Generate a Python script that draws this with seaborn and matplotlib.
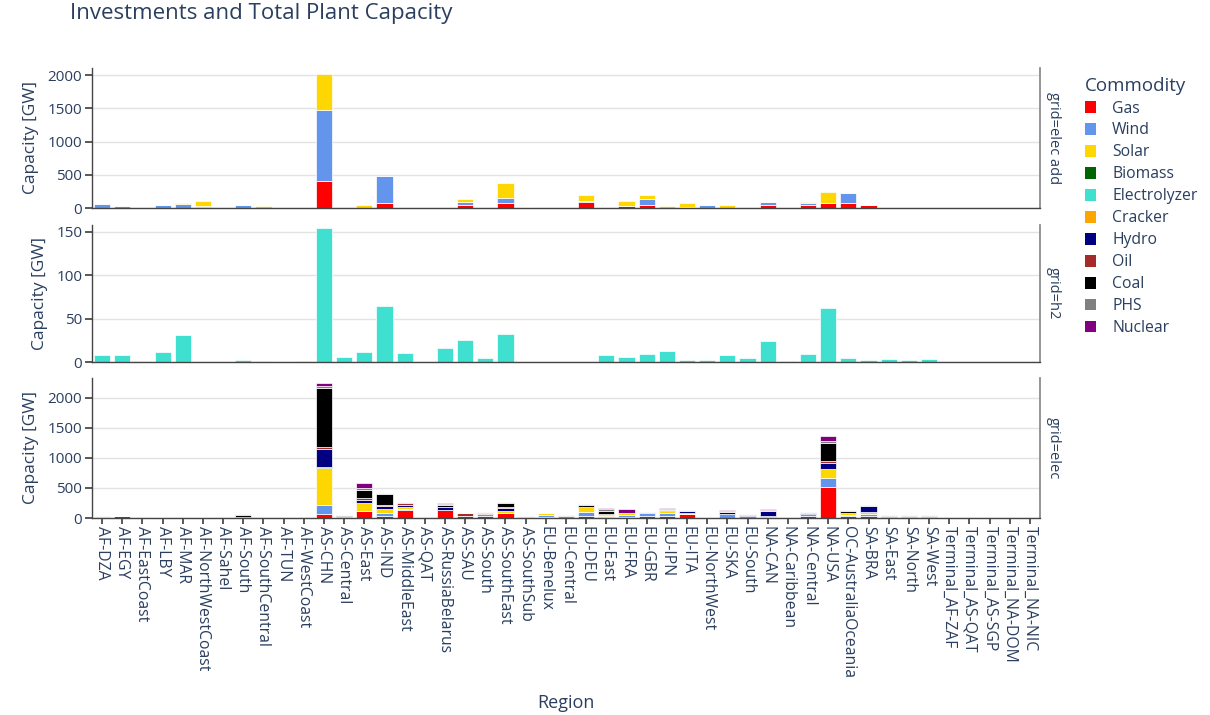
import numpy as np
import pandas as pd
import seaborn as sns
import matplotlib.pyplot as plt
from matplotlib.patches import Patch

regions = [
    "AF-DZA", "AF-EGY", "AF-EastCoast", "AF-LBY", "AF-MAR", "AF-NorthWestCoast",
    "AF-Sahel", "AF-South", "AF-SouthCentral", "AF-TUN", "AF-WestCoast",
    "AS-CHN", "AS-Central", "AS-East", "AS-IND", "AS-MiddleEast", "AS-QAT",
    "AS-RussiaBelarus", "AS-SAU", "AS-South", "AS-SouthEast", "AS-SouthSub",
    "EU-Benelux", "EU-Central", "EU-DEU", "EU-East", "EU-FRA", "EU-GBR",
    "EU-IPN", "EU-ITA", "EU-NorthWest", "EU-SKA", "EU-South",
    "NA-CAN", "NA-Caribbean", "NA-Central", "NA-USA", "OC-AustraliaOceania",
    "SA-BRA", "SA-East", "SA-North", "SA-West",
    "Terminal_AF-ZAF", "Terminal_AS-QAT", "Terminal_AS-SGP", "Terminal_NA-DOM", "Terminal_NA-NIC",
]

commodities = ["Gas", "Wind", "Solar", "Biomass", "Electrolyzer", "Cracker",
               "Hydro", "Oil", "Coal", "PHS", "Nuclear"]
colors = ["#FF0000", "#6495ED", "#FFD700", "#006400", "#40E0D0", "#FFA500",
          "#000080", "#A52A2A", "#000000", "#808080", "#800080"]

# --- grid=elec add (GW) ---
add_gas = [5, 5, 0, 0, 0, 15, 0, 0, 0, 0, 0, 410, 0, 0, 75, 0, 0, 0, 50, 0, 75, 15,
           0, 0, 90, 0, 25, 40, 0, 15, 0, 0, 0, 45, 0, 40, 75, 75, 45, 0, 0, 0,
           0, 0, 0, 0, 0]
add_wind = [55, 25, 15, 40, 55, 10, 0, 45, 0, 0, 10, 1065, 0, 0, 410, 0, 0, 0, 45, 0, 80, 0,
            10, 0, 10, 0, 0, 90, 0, 0, 40, 5, 0, 40, 0, 30, 0, 150, 0, 0, 0, 0,
            0, 0, 0, 0, 0]
add_solar = [0, 0, 0, 10, 15, 75, 0, 0, 35, 0, 0, 540, 0, 40, 0, 0, 0, 0, 35, 0, 220, 0,
             0, 0, 100, 0, 85, 60, 35, 65, 0, 35, 0, 0, 0, 20, 170, 0, 0, 0, 0, 0,
             0, 0, 0, 0, 0]

# --- grid=h2 (GW) ---
h2_electrolyzer = [8.5, 7.8, 1.5, 11.6, 31, 0, 0, 2, 0.8, 0, 0.8, 155, 5.4, 11.2, 64.7, 10.5,
                   0, 15.9, 24.8, 5, 32.2, 0, 0, 0, 0, 8.5, 6.2, 9.7, 13.2, 2.7, 1.9, 8.5,
                   5, 24.4, 0.8, 9.3, 62.8, 4.3, 2.3, 3.1, 2.3, 3.1, 0, 0, 0, 0, 0]

# --- grid=elec (GW) ---
el_gas = [15, 30, 0, 5, 3, 0, 2, 5, 0, 5, 5, 60, 10, 110, 35, 130, 0, 130, 30, 40, 75, 0,
          15, 0, 35, 15, 15, 35, 35, 60, 0, 0, 0, 15, 8, 40, 520, 35, 30, 0, 0, 0,
          0, 0, 0, 0, 0]
el_wind = [0, 0, 0, 0, 0, 10, 0, 0, 0, 0, 0, 160, 0, 10, 40, 15, 0, 0, 0, 20, 0, 0,
           35, 30, 65, 10, 40, 45, 40, 0, 10, 60, 30, 25, 0, 20, 150, 15, 40, 20, 10, 15,
           0, 0, 0, 0, 0]
el_solar = [0, 0, 0, 0, 0, 0, 0, 0, 0, 0, 0, 615, 0, 130, 70, 40, 0, 0, 0, 0, 40, 0,
            30, 0, 85, 30, 25, 10, 35, 25, 0, 0, 0, 0, 0, 10, 140, 30, 30, 0, 0, 0,
            0, 0, 0, 0, 0]
el_biomass = [0, 0, 0, 0, 0, 0, 0, 0, 0, 0, 0, 20, 0, 0, 0, 0, 0, 0, 0, 0, 0, 0,
              0, 0, 0, 0, 0, 0, 0, 0, 0, 0, 0, 0, 0, 0, 0, 0, 0, 0, 0, 0,
              0, 0, 0, 0, 0]
el_hydro = [0, 0, 5, 0, 0, 0, 0, 5, 8, 0, 0, 300, 20, 45, 55, 25, 0, 50, 0, 0, 55, 10,
            0, 0, 0, 0, 10, 0, 20, 25, 5, 45, 15, 80, 0, 15, 100, 10, 100, 20, 25, 20,
            0, 0, 0, 0, 0]
el_oil = [5, 8, 0, 8, 0, 0, 0, 0, 0, 0, 0, 25, 0, 40, 10, 40, 0, 10, 50, 15, 10, 0,
          0, 0, 0, 10, 0, 0, 0, 0, 0, 0, 0, 0, 0, 0, 45, 0, 0, 0, 0, 0,
          0, 0, 0, 0, 0]
el_coal = [0, 0, 0, 0, 5, 0, 0, 45, 0, 0, 0, 990, 15, 130, 195, 0, 0, 30, 0, 0, 75, 0,
           0, 0, 30, 55, 0, 0, 0, 0, 0, 0, 0, 0, 0, 0, 290, 30, 0, 0, 0, 0,
           0, 0, 0, 0, 0]
el_phs = [8, 0, 5, 0, 0, 10, 0, 5, 0, 0, 0, 30, 10, 40, 5, 15, 0, 20, 0, 20, 10, 15,
          0, 20, 25, 30, 0, 10, 20, 15, 0, 15, 15, 15, 0, 15, 30, 10, 10, 15, 15, 15,
          0, 0, 0, 0, 0]
el_nuclear = [0, 0, 0, 0, 0, 0, 0, 0, 0, 0, 0, 45, 0, 70, 0, 0, 0, 15, 0, 0, 0, 0,
              0, 0, 0, 20, 65, 0, 10, 0, 0, 15, 0, 20, 0, 0, 95, 0, 0, 0, 0, 0,
              0, 0, 0, 0, 0]

panels = [
    ("grid=elec add", {"Gas": add_gas, "Wind": add_wind, "Solar": add_solar},
     [0, 500, 1000, 1500, 2000], 2110),
    ("grid=h2", {"Electrolyzer": h2_electrolyzer}, [0, 50, 100, 150], 158),
    ("grid=elec", {"Gas": el_gas, "Wind": el_wind, "Solar": el_solar, "Biomass": el_biomass,
                   "Hydro": el_hydro, "Oil": el_oil, "Coal": el_coal, "PHS": el_phs,
                   "Nuclear": el_nuclear},
     [0, 500, 1000, 1500, 2000], 2333),
]

sns.set_theme(style="white")
plt.rcParams["font.family"] = ["Open Sans", "DejaVu Sans"]
text_color = "#2a3f5f"
palette = dict(zip(commodities, colors))

fig = plt.figure(figsize=(12.1, 7.15), dpi=100)
W, H = 1210, 715
boxes = [(68, 208), (225, 362), (378, 518)]
x_pos = np.arange(len(regions))

axes = []
for (label, series, ticks, ymax), (top, bottom) in zip(panels, boxes):
    ax = fig.add_axes([92 / W, 1 - bottom / H, 948 / W, (bottom - top) / H])
    rows = []
    for name, vals in series.items():
        for i, v in enumerate(vals):
            rows.append({"x": x_pos[i], "Commodity": name, "Capacity": v})
    df = pd.DataFrame(rows)
    # seaborn stacks the last hue level at the bottom
    order = [c for c in commodities if c in series][::-1]
    sns.histplot(data=df, x="x", weights="Capacity", hue="Commodity", hue_order=order,
                 multiple="stack", discrete=True, shrink=0.8, palette=palette,
                 alpha=1, edgecolor="white", linewidth=0.5, legend=False, ax=ax)
    ax.set_xlim(-0.5, len(regions) - 0.5)
    ax.set_ylim(0, ymax)
    ax.set_yticks(ticks)
    ax.set_yticklabels([str(t) for t in ticks])
    ax.yaxis.grid(True, color="#e3e3e3", linewidth=1)
    ax.set_axisbelow(True)
    ax.set_ylabel("Capacity [GW]", fontsize=12.5, color=text_color, labelpad=6)
    ax.set_xlabel("")
    for s in ["left", "bottom"]:
        ax.spines[s].set_color("#444444")
        ax.spines[s].set_linewidth(1)
    ax.spines["right"].set_color("#888888")
    ax.spines["top"].set_visible(False)
    ax.tick_params(axis="y", colors="#444444", labelcolor=text_color, labelsize=11,
                   length=5, left=True, direction="out", pad=2)
    ax.text(1.006, 0.5, label, transform=ax.transAxes, rotation=270, va="center",
            ha="left", fontsize=10.5, color=text_color)
    axes.append(ax)

for ax in axes[:-1]:
    ax.set_xticks(x_pos)
    ax.tick_params(axis="x", bottom=False, labelbottom=False)
axes[-1].set_xticks(x_pos)
axes[-1].set_xticklabels(regions, rotation=270, fontsize=11.3, color=text_color)
axes[-1].tick_params(axis="x", colors="#444444", labelcolor=text_color, length=4,
                     bottom=True, direction="out", pad=2)

fig.text(70 / W, 1 - 14 / H, "Investments and Total Plant Capacity", fontsize=16,
         color=text_color, va="center", ha="left")
fig.text(566 / W, 1 - 703 / H, "Region", fontsize=13, color=text_color,
         ha="center", va="center")

handles = [Patch(facecolor=c, edgecolor="none", label=n) for n, c in zip(commodities, colors)]
leg = fig.legend(handles=handles, title="Commodity", loc="upper left",
                 bbox_to_anchor=(1072 / W, 1 - 64 / H), frameon=False, fontsize=11.3,
                 title_fontsize=13.5, labelspacing=0.38, handlelength=0.75, handleheight=0.75,
                 handletextpad=1.0, borderpad=0.3, alignment="left")
leg.get_title().set_color(text_color)
for t in leg.get_texts():
    t.set_color(text_color)

fig.savefig("out.png", dpi=100)
